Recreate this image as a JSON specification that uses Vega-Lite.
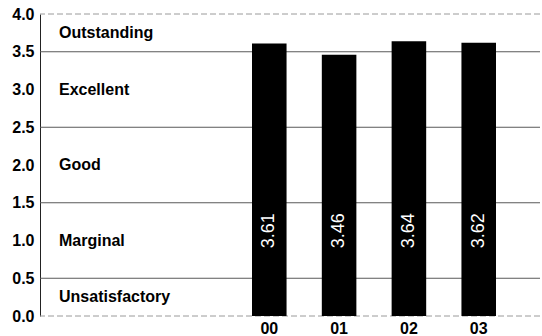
{
  "$schema": "https://vega.github.io/schema/vega-lite/v6.json",
  "width": 500,
  "height": 302,
  "autosize": {"type": "none"},
  "padding": {"left": 40, "top": 14, "right": 2, "bottom": 20},
  "background": "white",
  "config": {
    "view": {"stroke": null},
    "font": "Liberation Sans",
    "axis": {"labelFont": "Liberation Sans"},
    "axisY": {
      "labelOverlap": false,
      "grid": false,
      "ticks": false,
      "labelPadding": 6,
      "labelFontSize": 16,
      "labelFontWeight": "bold",
      "labelColor": "#000000",
      "domainColor": "#222222",
      "domainWidth": 1
    }
  },
  "datasets": {
    "scores": [
      {"year": "00", "score": 3.61},
      {"year": "01", "score": 3.46},
      {"year": "02", "score": 3.64},
      {"year": "03", "score": 3.62}
    ],
    "ratings": [
      {"panel": "ratings", "rating": "Outstanding", "center": 3.75},
      {"panel": "ratings", "rating": "Excellent", "center": 3.0},
      {"panel": "ratings", "rating": "Good", "center": 2.0},
      {"panel": "ratings", "rating": "Marginal", "center": 1.0},
      {"panel": "ratings", "rating": "Unsatisfactory", "center": 0.25}
    ],
    "bounds": [
      {"level": 0.5},
      {"level": 1.5},
      {"level": 2.5},
      {"level": 3.5}
    ],
    "frame": [
      {"level": 0.0},
      {"level": 4.0}
    ]
  },
  "resolve": {"scale": {"x": "independent"}},
  "layer": [
    {
      "data": {"name": "frame"},
      "mark": {"type": "rule", "color": "#9a9a9a", "strokeWidth": 1, "strokeDash": [6, 3]},
      "encoding": {
        "y": {
          "field": "level",
          "type": "quantitative",
          "scale": {"domain": [0, 4], "nice": false, "zero": true},
          "axis": {"values": [0, 0.5, 1, 1.5, 2, 2.5, 3, 3.5, 4], "format": ".1f", "title": null}
        }
      }
    },
    {
      "data": {"name": "bounds"},
      "mark": {"type": "rule", "color": "#5a5a5a", "strokeWidth": 1},
      "encoding": {
        "y": {
          "field": "level",
          "type": "quantitative",
          "axis": {"values": [0, 0.5, 1, 1.5, 2, 2.5, 3, 3.5, 4], "format": ".1f", "title": null}
        }
      }
    },
    {
      "data": {"name": "ratings"},
      "mark": {
        "type": "text",
        "align": "left",
        "baseline": "middle",
        "dx": 19,
        "fontSize": 16,
        "fontWeight": "bold",
        "color": "#000000"
      },
      "encoding": {
        "x": {
          "field": "panel",
          "type": "nominal",
          "bandPosition": 0,
          "scale": {"type": "band", "paddingInner": 0, "paddingOuter": 0},
          "axis": null
        },
        "y": {
          "field": "center",
          "type": "quantitative",
          "axis": {"values": [0, 0.5, 1, 1.5, 2, 2.5, 3, 3.5, 4], "format": ".1f", "title": null}
        },
        "text": {"field": "rating"}
      }
    },
    {
      "data": {"name": "scores"},
      "encoding": {
        "x": {
          "field": "year",
          "type": "nominal",
          "sort": null,
          "scale": {"type": "band", "paddingInner": 0.505, "paddingOuter": 0, "range": [212, 456]},
          "axis": {
            "title": null,
            "domain": false,
            "ticks": false,
            "labelAngle": 0,
            "labelPadding": 4,
            "labelFontSize": 16,
            "labelFontWeight": "bold",
            "labelColor": "#000000"
          }
        }
      },
      "layer": [
        {
          "mark": {"type": "bar", "color": "#000000"},
          "encoding": {
            "y": {
              "field": "score",
              "type": "quantitative",
              "axis": {"values": [0, 0.5, 1, 1.5, 2, 2.5, 3, 3.5, 4], "format": ".1f", "title": null}
            }
          }
        },
        {
          "mark": {
            "type": "text",
            "angle": 270,
            "align": "center",
            "baseline": "middle",
            "fontSize": 18,
            "color": "#ffffff"
          },
          "encoding": {
            "y": {
              "datum": 1.13,
              "type": "quantitative",
              "axis": {"values": [0, 0.5, 1, 1.5, 2, 2.5, 3, 3.5, 4], "format": ".1f", "title": null}
            },
            "text": {"field": "score", "type": "quantitative", "format": ".2f"}
          }
        }
      ]
    }
  ]
}
